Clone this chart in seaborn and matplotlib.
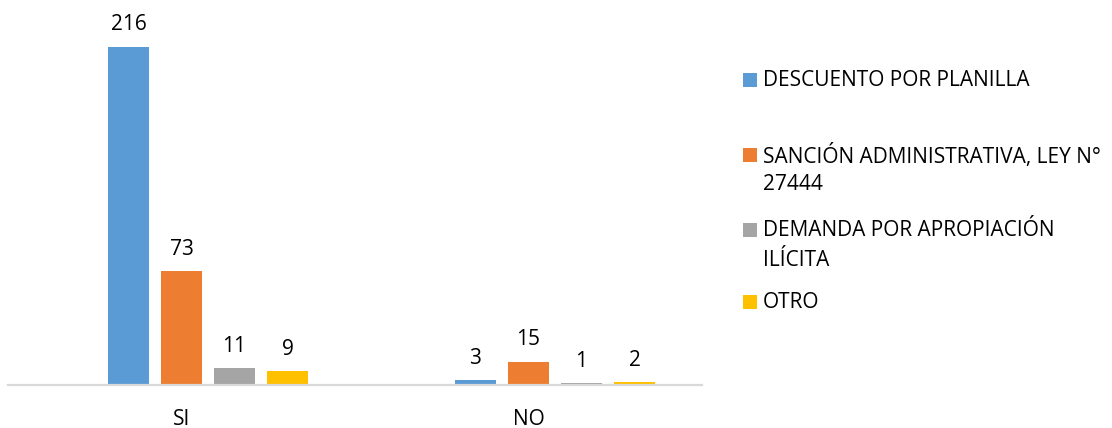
import matplotlib
matplotlib.use("Agg")
import matplotlib.pyplot as plt
from matplotlib.patches import Rectangle
import seaborn as sns
import pandas as pd

# Categories and series
categories = ["SI", "NO"]
series = [
    "DESCUENTO POR PLANILLA",
    "SANCIÓN ADMINISTRATIVA, LEY N° 27444",
    "DEMANDA POR APROPIACIÓN ILÍCITA",
    "OTRO",
]
legend_lines = [
    ["DESCUENTO POR PLANILLA"],
    ["SANCIÓN ADMINISTRATIVA, LEY N°", "27444"],
    ["DEMANDA POR APROPIACIÓN", "ILÍCITA"],
    ["OTRO"],
]
descuento = [216, 3]
sancion = [73, 15]
demanda = [11, 1]
otro = [9, 2]
colors = ["#5B9BD5", "#ED7D31", "#A5A5A5", "#FFC000"]

sns.set_theme(style="white")
plt.rcParams["font.family"] = ["Open Sans", "DejaVu Sans"]

# Long-form table; an empty leading group slot keeps the bars offset in each category
blank = " "
rows = []
for name, vals in zip(series, [descuento, sancion, demanda, otro]):
    for c, v in zip(categories, vals):
        rows.append({"cat": c, "serie": name, "val": v})
for c in categories:
    rows.append({"cat": c, "serie": blank, "val": 0})
df = pd.DataFrame(rows)

fig = plt.figure(figsize=(11.12, 4.28), dpi=100)
ax = fig.add_axes([8 / 1112, 43 / 428, 694 / 1112, 376 / 428])

palette = {blank: "white"}
palette.update(dict(zip(series, colors)))
sns.barplot(
    data=df, x="cat", y="val", hue="serie",
    order=categories, hue_order=[blank] + series,
    palette=palette, saturation=1, width=0.764, gap=0.21,
    edgecolor="none", linewidth=0, legend=False, ax=ax,
)

ax.set_xlim(-0.5, 1.5)
ax.set_ylim(0, 240)
ax.set_xlabel("")
ax.set_ylabel("")
ax.set_yticks([])
for side in ["left", "right", "top"]:
    ax.spines[side].set_visible(False)
ax.spines["bottom"].set_color("#D9D9D9")
ax.spines["bottom"].set_linewidth(1.6)
ax.tick_params(axis="x", length=0, pad=17, labelsize=15, labelcolor="#000000")

# Value labels on the real series only
for cont in ax.containers[1:]:
    ax.bar_label(cont, padding=8, fontsize=15, color="#000000")

# Legend on the right
ys = [80, 155, 230, 302]
line_h = 29
for lines, col, y in zip(legend_lines, colors, ys):
    fig.patches.append(Rectangle((743 / 1112, 1 - (y + 7) / 428), 14 / 1112, 14 / 428,
                                 transform=fig.transFigure, facecolor=col,
                                 edgecolor="none", figure=fig))
    for i, line in enumerate(lines):
        fig.text(763 / 1112, 1 - (y + 1 + i * line_h) / 428, line, fontsize=15,
                 color="#000000", ha="left", va="center")

fig.savefig("out.png", dpi=100)
